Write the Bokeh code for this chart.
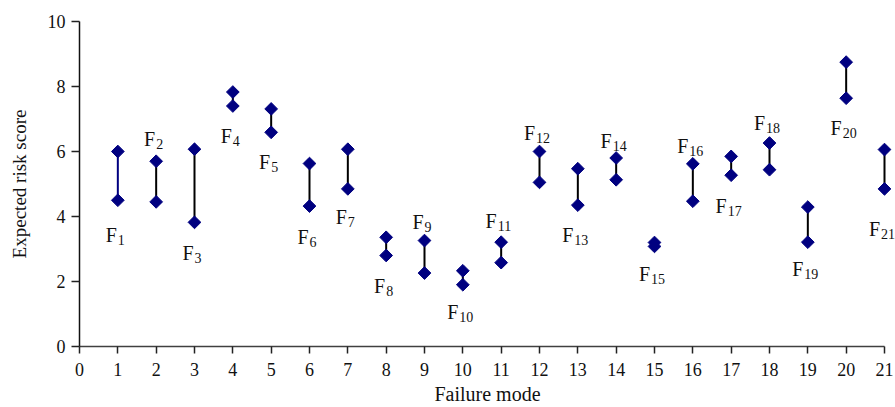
from bokeh.plotting import figure
from bokeh.models import Range1d, ColumnDataSource, FixedTicker
from bokeh.core.properties import value
from bokeh.embed import file_html
from bokeh.resources import INLINE
import math

# ---- data ----
modes = list(range(1, 22))
high = [6.00, 5.70, 6.07, 7.83, 7.31, 5.63, 6.07, 3.36, 3.26, 2.33, 3.21,
        6.00, 5.47, 5.80, 3.20, 5.62, 5.85, 6.26, 4.29, 8.75, 6.06]
low = [4.50, 4.45, 3.82, 7.40, 6.59, 4.32, 4.85, 2.80, 2.26, 1.90, 2.58,
       5.05, 4.35, 5.13, 3.08, 4.47, 5.27, 5.44, 3.21, 7.64, 4.85]
label_y = [3.42, 6.40, 2.89, 6.49, 5.67, 3.38, 3.98, 1.85, 3.82, 1.06, 3.85,
           6.56, 3.42, 6.32, 2.22, 6.18, 4.31, 6.87, 2.40, 6.71, 3.63]
x_ticks = list(range(0, 22))
y_ticks = [0, 2, 4, 6, 8, 10]

NAVY = "#000080"
FONT = value("Liberation Serif")

line_colors = [NAVY] + ["black"] * (len(modes) - 1)
subs = [str(m) for m in modes]
f_off = [-1 if len(s) == 1 else -4.5 for s in subs]
s_off = [o + 1 for o in f_off]

src = ColumnDataSource(dict(x=modes, hi=high, lo=low, ly=label_y,
                            lc=line_colors, F=["F"] * len(modes), sub=subs,
                            foff=f_off, soff=s_off))

p = figure(width=895, height=407, output_backend="svg", toolbar_location=None,
           x_range=Range1d(0, 21.287), y_range=Range1d(0, 10),
           min_border_left=79, min_border_right=0, min_border_top=21,
           min_border_bottom=61)
p.outline_line_color = None
p.grid.visible = False
p.background_fill_color = "white"
p.border_fill_color = "white"

p.segment(x0="x", y0="lo", x1="x", y1="hi", source=src, line_color="lc",
          line_width=2)
for col in ("hi", "lo"):
    p.scatter(x="x", y=col, source=src, marker="square", angle=math.pi / 4,
              size=9, fill_color=NAVY, line_color=NAVY)

p.text(x="x", y="ly", text="F", source=src, x_offset="foff",
       text_align="right", text_baseline="alphabetic", text_font=FONT,
       text_font_size="20px", text_color="#111111")
p.text(x="x", y="ly", text="sub", source=src, x_offset="soff", y_offset=5,
       text_align="left", text_baseline="alphabetic", text_font=FONT,
       text_font_size="14px", text_color="#111111")

xa = p.xaxis[0]
xa.ticker = FixedTicker(ticks=x_ticks)
xa.bounds = (0, 21)
xa.axis_label = "Failure mode"
ya = p.yaxis[0]
ya.ticker = FixedTicker(ticks=y_ticks)
ya.axis_label = "Expected risk score"

for ax in (xa, ya):
    ax.minor_tick_line_color = None
    ax.major_tick_in = 0
    ax.major_label_text_font = "Liberation Serif"
    ax.major_label_text_font_size = "18px"
    ax.major_label_text_color = "#111111"
    ax.axis_label_text_font = "Liberation Serif"
    ax.axis_label_text_font_style = "normal"
    ax.axis_label_text_color = "#111111"
    ax.major_tick_line_color = "#222222"
    ax.major_tick_line_width = 1.5
    ax.axis_line_width = 1.5

xa.axis_label_text_font_size = "20px"
ya.axis_label_text_font_size = "19px"
xa.axis_line_color = "#404040"
ya.axis_line_color = "#111111"
xa.major_tick_out = 7
ya.major_tick_out = 8
xa.major_label_standoff = 9
xa.axis_label_standoff = 4
ya.major_label_standoff = 6
ya.axis_label_standoff = 15

open("out.html", "w").write(file_html(p, INLINE))
